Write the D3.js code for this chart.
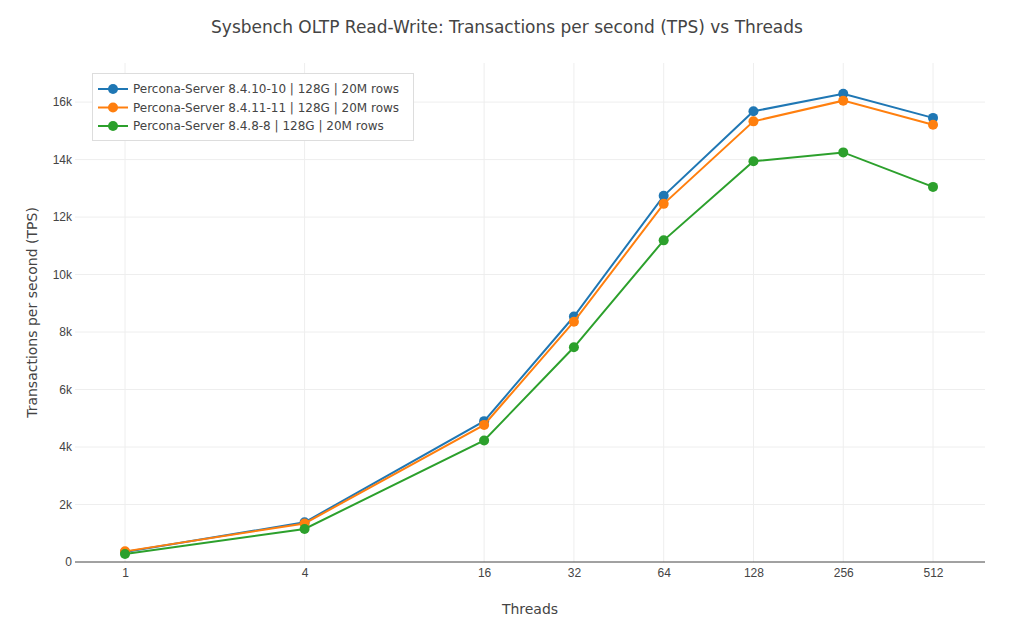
<!DOCTYPE html>
<html>
<head>
<meta charset="utf-8">
<script src="https://cdn.jsdelivr.net/npm/d3@7"></script>
<style>
  body { margin: 0; background: #fff; }
  svg { display: block; font-family: "DejaVu Sans", verdana, arial, sans-serif; }
</style>
</head>
<body>
<svg></svg>
<script>
const width = 1014;
const height = 623;

const threads = [1, 4, 16, 32, 64, 128, 256, 512];
const seriesNames = [
  "Percona-Server 8.4.10-10 | 128G | 20M rows",
  "Percona-Server 8.4.11-11 | 128G | 20M rows",
  "Percona-Server 8.4.8-8 | 128G | 20M rows"
];
const tps_8410 = [350, 1380, 4900, 8540, 12740, 15680, 16290, 15450];
const tps_8411 = [370, 1340, 4770, 8360, 12460, 15330, 16050, 15210];
const tps_848 = [280, 1150, 4230, 7470, 11190, 13940, 14250, 13050];
const yTicks = [0, 2000, 4000, 6000, 8000, 10000, 12000, 14000, 16000];
const colors = ["#1f77b4", "#ff7f0e", "#2ca02c"];

const series = [tps_8410, tps_8411, tps_848].map(function(values, i) {
  return { name: seriesNames[i], color: colors[i], values: values };
});

const margin = { top: 63, right: 29, bottom: 61, left: 75 };
const plotW = width - margin.left - margin.right;
const plotH = height - margin.top - margin.bottom;

const svg = d3.select("svg")
  .attr("width", width)
  .attr("height", height);

// log axis with plotly-like padding around the end points
const x = d3.scaleLog()
  .base(2)
  .domain([Math.pow(2, -0.557), Math.pow(2, 9.579)])
  .range([0, plotW]);

const y = d3.scaleLinear()
  .domain([0, 17360])
  .range([plotH, 0]);

const g = svg.append("g")
  .attr("transform", `translate(${margin.left}, ${margin.top})`);

// grid
g.selectAll("line.ygrid")
  .data(yTicks.filter(function(d) { return d > 0; }))
  .join("line")
  .attr("class", "ygrid")
  .attr("x1", 0)
  .attr("x2", plotW)
  .attr("y1", function(d) { return y(d); })
  .attr("y2", function(d) { return y(d); })
  .attr("stroke", "#eee")
  .attr("stroke-width", 1);

g.selectAll("line.xgrid")
  .data(threads)
  .join("line")
  .attr("class", "xgrid")
  .attr("x1", function(d) { return x(d); })
  .attr("x2", function(d) { return x(d); })
  .attr("y1", 0)
  .attr("y2", plotH)
  .attr("stroke", "#eee")
  .attr("stroke-width", 1);

// zero line
g.append("line")
  .attr("x1", 0)
  .attr("x2", plotW)
  .attr("y1", y(0))
  .attr("y2", y(0))
  .attr("stroke", "#444")
  .attr("stroke-width", 1);

// axes labels
const yAxis = d3.axisLeft(y)
  .tickValues(yTicks)
  .tickSize(0)
  .tickPadding(3)
  .tickFormat(function(d) { return d === 0 ? "0" : (d / 1000) + "k"; });

g.append("g")
  .call(yAxis)
  .call(function(sel) { sel.select(".domain").remove(); })
  .selectAll("text")
  .attr("font-size", 12)
  .attr("fill", "#444")
  .attr("font-family", null);

const xAxis = d3.axisBottom(x)
  .tickValues(threads)
  .tickSize(0)
  .tickPadding(6)
  .tickFormat(d3.format("d"));

g.append("g")
  .attr("transform", `translate(0, ${plotH})`)
  .call(xAxis)
  .call(function(sel) { sel.select(".domain").remove(); })
  .selectAll("text")
  .attr("font-size", 12)
  .attr("fill", "#444")
  .attr("font-family", null);

// lines and markers
const line = d3.line()
  .x(function(d, i) { return x(threads[i]); })
  .y(function(d) { return y(d); });

series.forEach(function(s) {
  g.append("path")
    .datum(s.values)
    .attr("d", line)
    .attr("fill", "none")
    .attr("stroke", s.color)
    .attr("stroke-width", 2);

  g.selectAll(null)
    .data(s.values)
    .join("circle")
    .attr("cx", function(d, i) { return x(threads[i]); })
    .attr("cy", function(d) { return y(d); })
    .attr("r", 5)
    .attr("fill", s.color);
});

// titles
svg.append("text")
  .attr("x", width / 2)
  .attr("y", 33)
  .attr("text-anchor", "middle")
  .attr("font-size", 17)
  .attr("fill", "#444")
  .text("Sysbench OLTP Read-Write: Transactions per second (TPS) vs Threads");

svg.append("text")
  .attr("x", margin.left + plotW / 2)
  .attr("y", 614)
  .attr("text-anchor", "middle")
  .attr("font-size", 14)
  .attr("fill", "#444")
  .text("Threads");

svg.append("text")
  .attr("transform", `translate(37, ${margin.top + plotH / 2}) rotate(-90)`)
  .attr("text-anchor", "middle")
  .attr("font-size", 14)
  .attr("fill", "#444")
  .text("Transactions per second (TPS)");

// legend
const legend = svg.append("g")
  .attr("transform", "translate(92, 73)");

legend.append("rect")
  .attr("x", 0.5)
  .attr("y", 0.5)
  .attr("width", 321)
  .attr("height", 67)
  .attr("fill", "#fff")
  .attr("stroke", "#ddd")
  .attr("stroke-width", 1);

const item = legend.selectAll("g.item")
  .data(series)
  .join("g")
  .attr("class", "item")
  .attr("transform", function(d, i) { return `translate(0, ${16 + i * 18.5})`; });

item.append("line")
  .attr("x1", 6)
  .attr("x2", 36)
  .attr("stroke", function(d) { return d.color; })
  .attr("stroke-width", 2);

item.append("circle")
  .attr("cx", 21)
  .attr("r", 5)
  .attr("fill", function(d) { return d.color; });

item.append("text")
  .attr("x", 41)
  .attr("dy", "0.35em")
  .attr("font-size", 12)
  .attr("fill", "#444")
  .text(function(d) { return d.name; });
</script>
</body>
</html>
